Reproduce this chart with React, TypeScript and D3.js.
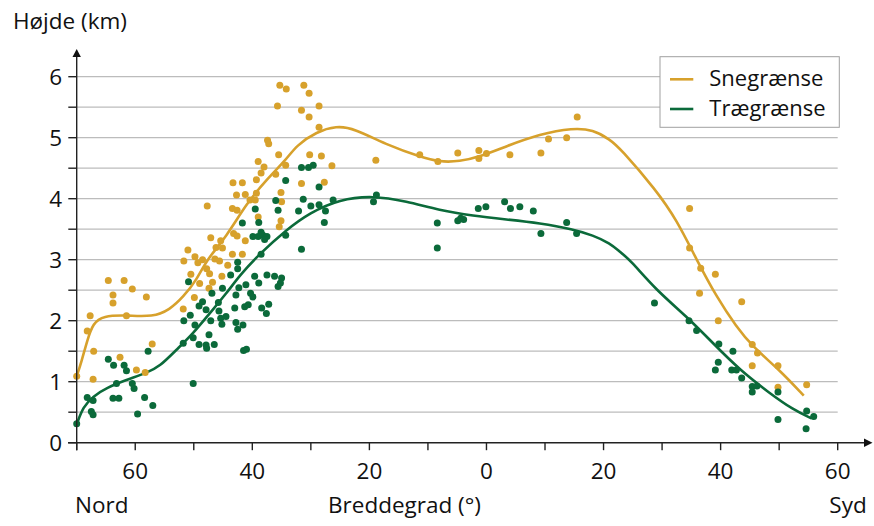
import React from "react";
import * as d3 from "d3";

// ---- Data (latitude: negative = north, positive = south; height in km) ----
const snowLat = [
  -64.6, -61.9, -60.5, -63.8, -63.8, -58.1, -67.7, -61.5, -68.2, -67.1, -62.6, -57.1, -59.8, -58.3, -70.0, -67.2,
  -51.8, -49.9, -39.0, -38.0, -38.5, -39.3, -43.3, -41.7, -36.0, -34.3, -26.4, -31.6, -27.7, -42.7, -41.2, -40.4,
  -39.3, -39.5, -47.7, -43.4, -42.6, -35.1, -35.0, -39.0, -35.1, -35.4, -43.2, -42.6, -41.2, -47.1, -45.4, -46.2,
  -45.1, -43.4, -41.7, -51.0, -49.8, -51.7, -49.3, -48.5, -46.4, -45.6, -44.2, -47.8, -47.3, -45.2, -50.5, -49.0,
  -46.8, -47.4, -35.3, -34.2, -31.2, -30.3, -35.7, -31.6, -30.3, -28.6, -28.6, -37.4, -37.2, -35.5, -30.2, -28.2,
  -18.9, -11.4, -8.3, -4.9, -1.3, -1.3, 0.0, 4.0, 9.3, 10.6, 13.7, 15.5,
  34.7, 34.7, 36.6, 39.1, 36.4, 43.6, 39.6, 45.4, 46.3, 45.4, 49.8, 49.8, 54.7,
];
const snowHeight = [
  2.66, 2.66, 2.52, 2.42, 2.29, 2.39, 2.08, 2.08, 1.83, 1.50, 1.40, 1.62, 1.19, 1.15, 1.09, 1.04,
  2.19, 2.38, 4.61, 4.52, 4.42, 4.31, 4.26, 4.26, 4.40, 4.55, 4.54, 4.25, 4.27, 4.06, 4.07, 3.98,
  4.09, 3.98, 3.88, 3.84, 3.81, 4.10, 3.95, 3.70, 3.64, 3.54, 3.43, 3.39, 3.31, 3.36, 3.31, 3.20,
  3.19, 3.09, 3.09, 3.16, 3.05, 2.98, 2.95, 3.00, 3.01, 2.98, 2.91, 2.85, 2.77, 2.73, 2.76, 2.61,
  2.63, 2.53, 5.86, 5.80, 5.86, 5.73, 5.52, 5.45, 5.34, 5.52, 5.17, 4.96, 4.90, 4.72, 4.72, 4.70,
  4.63, 4.72, 4.61, 4.75, 4.79, 4.66, 4.74, 4.72, 4.75, 4.98, 5.00, 5.34,
  3.84, 3.19, 2.86, 2.76, 2.45, 2.31, 2.00, 1.61, 1.47, 1.26, 1.26, 0.91, 0.95,
];

const treeLat = [
  -64.6, -63.7, -61.9, -61.5, -63.2, -60.5, -60.2, -68.2, -67.2, -63.8, -62.8, -58.4, -57.0, -67.5, -67.2, -59.6,
  -70.0, -57.8, -50.1,
  -31.6, -30.4, -29.6, -34.3, -28.6, -36.0, -31.3, -30.0, -28.6, -26.2, -39.5, -35.6, -32.1, -27.5, -27.7, -41.7,
  -38.9, -38.5, -39.9, -39.0, -38.2, -37.5, -37.9, -34.3, -31.6, -38.5, -42.5, -42.5, -43.7, -39.6, -37.5, -36.2,
  -35.0, -35.2, -35.6, -38.9, -41.1, -42.3, -45.1, -46.9, -50.9, -42.8, -40.3, -39.9, -48.5, -49.1, -47.9, -45.8,
  -43.0, -41.3, -40.7, -38.4, -37.2, -37.6, -50.6, -51.7, -49.8, -45.7, -47.1, -45.4, -44.5, -45.2, -42.8, -41.6,
  -42.5, -47.4, -50.1, -51.8, -49.1, -47.9, -47.8, -46.5, -41.0, -41.5,
  -18.8, -19.3, -8.4, -8.4, -4.9, -4.4, -3.9, -1.4, -0.1, 3.1, 4.1, 5.7, 8.0, 9.3, 13.7, 15.4,
  28.7, 34.6, 35.9, 39.7, 42.1, 39.6, 39.1, 41.9, 42.7, 43.6, 45.4, 46.2, 45.4, 49.8, 54.7, 55.9, 49.8, 54.6,
];
const treeHeight = [
  1.37, 1.27, 1.27, 1.18, 0.97, 0.97, 0.89, 0.74, 0.69, 0.73, 0.73, 0.74, 0.61, 0.51, 0.46, 0.47,
  0.31, 1.50, 0.97,
  4.51, 4.51, 4.55, 4.30, 4.19, 3.97, 3.99, 3.88, 3.90, 3.98, 3.83, 3.81, 3.80, 3.80, 3.61, 3.60,
  3.61, 3.45, 3.38, 3.38, 3.40, 3.38, 3.33, 3.40, 3.17, 3.09, 2.96, 2.85, 2.75, 2.73, 2.75, 2.73,
  2.70, 2.62, 2.56, 2.62, 2.59, 2.54, 2.53, 2.45, 2.64, 2.42, 2.45, 2.39, 2.31, 2.24, 2.18, 2.30,
  2.21, 2.23, 2.26, 2.21, 2.27, 2.12, 2.09, 2.00, 1.93, 2.16, 2.00, 2.04, 2.07, 1.94, 1.97, 1.93,
  1.86, 1.77, 1.72, 1.63, 1.61, 1.60, 1.55, 1.61, 1.53, 1.51,
  4.06, 3.95, 3.60, 3.19, 3.64, 3.68, 3.66, 3.84, 3.87, 3.95, 3.84, 3.87, 3.80, 3.43, 3.61, 3.43,
  2.29, 2.00, 1.84, 1.62, 1.50, 1.32, 1.19, 1.19, 1.19, 1.06, 0.92, 0.93, 0.83, 0.83, 0.52, 0.43, 0.38, 0.23,
];

const snowCurveLat = [
  -70, -69.2, -68.2, -67.2, -65.5, -61.5, -57.0, -54.1, -51.8, -49.5, -47.8, -44.4, -41.0, -37.6, -34.2, -32.5,
  -29.0, -25.6, -22.8, -16.5, -11.4, -8.0, -4.6, -1.1, 3.4, 9.1, 14.8, 18.2, 21.1, 22.8, 29.0, 32.5, 35.9, 39.3,
  42.7, 45.5, 50.1, 54.2,
];
const snowCurveHeight = [
  1.09, 1.32, 1.68, 1.96, 2.08, 2.09, 2.06, 2.18, 2.39, 2.67, 3.0, 3.38, 3.92, 4.31, 4.64, 4.87,
  5.10, 5.19, 5.16, 4.86, 4.69, 4.60, 4.61, 4.69, 4.86, 5.06, 5.16, 5.13, 4.97, 4.83, 4.14, 3.65, 3.0, 2.39,
  1.9, 1.57, 1.19, 0.77,
];
const treeCurveLat = [
  -70, -68.9, -67.2, -64.9, -61.5, -58.1, -55.8, -53.0, -50.1, -47.3, -44.4, -42.1, -38.7, -34.2, -30.2, -25.1,
  -19.4, -13.7, -8.0, -2.3, 3.4, 9.1, 14.8, 18.2, 21.1, 22.8, 24.5, 29.0, 34.2, 38.7, 43.3, 48.4, 52.4, 55.5,
];
const treeCurveHeight = [
  0.30, 0.59, 0.76, 0.90, 1.03, 1.14, 1.25, 1.52, 1.79, 2.12, 2.45, 2.75, 3.10, 3.49, 3.77, 3.99,
  4.05, 3.96, 3.81, 3.72, 3.66, 3.60, 3.50, 3.40, 3.27, 3.13, 3.0, 2.5, 2.07, 1.63, 1.19, 0.81, 0.54, 0.40,
];

const xTickValues = [-70, -60, -50, -40, -30, -20, -10, 0, 10, 20, 30, 40, 50, 60];
const xLabelValues = [-60, -40, -20, 0, 20, 40, 60];
const yTickValues = [0, 0.5, 1, 1.5, 2, 2.5, 3, 3.5, 4, 4.5, 5, 5.5, 6];
const yLabelValues = [0, 1, 2, 3, 4, 5, 6];
const legendLabels = ["Snegrænse", "Trægrænse"];

const GOLD = "#D7A12C";
const GREEN = "#0B6A3A";
const FONT = "'Open Sans', 'Noto Sans', sans-serif";

export default function App() {
  const W = 874, H = 526;
  const x = d3.scaleLinear().domain([-70, 60]).range([76.7, 837.7]);
  const y = d3.scaleLinear().domain([0, 6]).range([442.7, 76.7]);
  const x0 = x(-70), y0 = y(0);

  const line = d3
    .line<[number, number]>()
    .x((d) => x(d[0]))
    .y((d) => y(d[1]))
    .curve(d3.curveBasis);

  const snowCurve = line(snowCurveLat.map((v, i) => [v, snowCurveHeight[i]] as [number, number])) || "";
  const treeCurve = line(treeCurveLat.map((v, i) => [v, treeCurveHeight[i]] as [number, number])) || "";

  const legX = 660, legY = 56.7, legW = 179.3, legH = 70.6;
  const fs = 22.5;

  return (
    <svg
      width={W}
      height={H}
      style={{ position: "absolute", left: 0, top: 0, background: "#fff" }}
      fontFamily={FONT}
    >
      <rect x={0} y={0} width={W} height={H} fill="#fff" />
      {/* grid */}
      {yTickValues
        .filter((v) => v > 0)
        .map((v) => (
          <line key={"g" + v} x1={x0} x2={x(60)} y1={y(v)} y2={y(v)} stroke="#bcbcbc" strokeWidth={1.3} />
        ))}
      {/* legend box (covers grid) */}
      <rect x={legX} y={legY} width={legW} height={legH} fill="#fff" stroke="#a0a0a0" strokeWidth={1} />
      {legendLabels.map((lab, i) => (
        <g key={lab}>
          <line
            x1={670}
            x2={693.3}
            y1={79.3 + i * 29.7}
            y2={79.3 + i * 29.7}
            stroke={i === 0 ? GOLD : GREEN}
            strokeWidth={2.6}
          />
          <text x={709.3} y={86 + i * 29.7} fontSize={22} fill="#111">
            {lab}
          </text>
        </g>
      ))}

      {/* curves */}
      <path d={snowCurve} fill="none" stroke={GOLD} strokeWidth={2.6} />
      <path d={treeCurve} fill="none" stroke={GREEN} strokeWidth={2.6} />

      {/* points */}
      {snowLat.map((v, i) => (
        <circle key={"s" + i} cx={x(v)} cy={y(snowHeight[i])} r={3.5} fill={GOLD} />
      ))}
      {treeLat.map((v, i) => (
        <circle key={"t" + i} cx={x(v)} cy={y(treeHeight[i])} r={3.5} fill={GREEN} />
      ))}

      {/* axes */}
      <line x1={x0} x2={x0} y1={y0 + 7.5} y2={55} stroke="#222" strokeWidth={1.4} />
      <path d={`M${x0 - 4.2},${57} L${x0 + 4.2},${57} L${x0},${49} Z`} fill="#111" />
      <line x1={68} x2={866} y1={y0} y2={y0} stroke="#222" strokeWidth={1.4} />
      <path d={`M${864},${y0 - 4.2} L${864},${y0 + 4.2} L${872.5},${y0} Z`} fill="#111" />
      {yTickValues.map((v) => (
        <line key={"yt" + v} x1={68.3} x2={x0} y1={y(v)} y2={y(v)} stroke="#222" strokeWidth={1.4} />
      ))}
      {xTickValues.map((v) => (
        <line key={"xt" + v} x1={x(v)} x2={x(v)} y1={y0} y2={y0 + 7.5} stroke="#222" strokeWidth={1.4} />
      ))}
      {yLabelValues.map((v) => (
        <text key={"yl" + v} x={62} y={y(v) + 8} textAnchor="end" fontSize={fs} fill="#111">
          {v}
        </text>
      ))}
      {xLabelValues.map((v) => (
        <text key={"xl" + v} x={x(v)} y={479} textAnchor="middle" fontSize={fs} fill="#111">
          {Math.abs(v)}
        </text>
      ))}
      <text x={13} y={29} fontSize={fs} fill="#111">
        Højde (km)
      </text>
      <text x={75} y={513} fontSize={fs} fill="#111">
        Nord
      </text>
      <text x={404.5} y={513} textAnchor="middle" fontSize={fs} fill="#111">
        Breddegrad (°)
      </text>
      <text x={866.7} y={513} textAnchor="end" fontSize={fs} fill="#111">
        Syd
      </text>
    </svg>
  );
}
